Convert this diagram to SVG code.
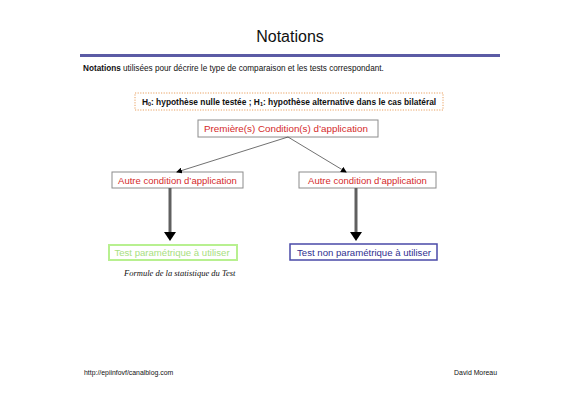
<svg xmlns="http://www.w3.org/2000/svg" width="580" height="410" viewBox="0 0 580 410">
<defs>
<style>
.t{font-family:"Liberation Sans",Arial,sans-serif;}
.box{fill:#fff;stroke:#8c8c8c;stroke-width:1;}
.red{fill:#d42a2a;font-size:9.5px;}
.thin{stroke:#333;stroke-width:0.7;fill:none;}
.thick{stroke:#606060;stroke-width:3;fill:none;}
</style>
<marker id="sa" markerWidth="6" markerHeight="6" refX="5" refY="3" orient="auto" markerUnits="userSpaceOnUse"><path d="M0,0 L6,3 L0,6 Z" fill="#000"/></marker>
</defs>
<rect width="580" height="410" fill="#fff"/>
<text class="t" x="290" y="42" font-size="16" text-anchor="middle" fill="#111">Notations</text>
<rect x="80" y="54" width="420" height="3" fill="#5b5ba5"/>
<text class="t" x="83" y="71" font-size="8.2" fill="#111"><tspan font-weight="bold">Notations</tspan> utilisées pour décrire le type de comparaison et les tests correspondant.</text>
<g id="notes">
<rect x="135" y="93" width="308" height="17" fill="#fff" stroke="#e8a060" stroke-width="1" stroke-dasharray="1.2,1.4"/>
<text class="t" x="289" y="104.8" font-size="8.4" font-weight="bold" text-anchor="middle" fill="#111">H<tspan font-size="5.5" dy="1.5">0</tspan><tspan dy="-1.5">: hypothèse nulle testée ; H</tspan><tspan font-size="5.5" dy="1.5">1</tspan><tspan dy="-1.5">: hypothèse alternative dans le cas bilatéral</tspan></text>
</g>
<g id="n1">
<rect class="box" x="198" y="120" width="180" height="17"/>
<text class="t red" x="286" y="132" font-size="9.8" text-anchor="middle" style="font-size:9.8px">Première(s) Condition(s) d’application</text>
</g>
<g id="n2">
<rect class="box" x="112" y="172" width="131" height="16"/>
<text class="t red" x="177.5" y="183.5" text-anchor="middle">Autre condition d’application</text>
</g>
<g id="n3">
<rect class="box" x="299" y="172" width="137" height="16"/>
<text class="t red" x="367.5" y="183.5" text-anchor="middle">Autre condition d’application</text>
</g>
<g id="n4">
<rect x="109" y="245" width="128" height="15" fill="#fff" stroke="#b8f090" stroke-width="2"/>
<text class="t" x="172" y="256" font-size="9.6" text-anchor="middle" fill="#a8e080">Test paramétrique à utiliser</text>
</g>
<g id="n5">
<rect x="290" y="244" width="147" height="16" fill="#fff" stroke="#4a4aa8" stroke-width="1.5"/>
<text class="t" x="364" y="255.5" font-size="9.6" text-anchor="middle" fill="#303090">Test non paramétrique à utiliser</text>
</g>
<g id="connectors">
<line class="thin" x1="288" y1="137" x2="177" y2="172" marker-end="url(#sa)"/>
<line class="thin" x1="288" y1="137" x2="346" y2="172" marker-end="url(#sa)"/>
<line class="thick" x1="170" y1="188" x2="170" y2="233"/>
<path d="M164,232 L176,232 L170,241 Z" fill="#000"/>
<line class="thick" x1="356" y1="188" x2="356" y2="233"/>
<path d="M350,232 L362,232 L356,241 Z" fill="#000"/>
</g>
<text x="124" y="276" font-family="Liberation Serif,serif" font-style="italic" font-size="8.5" fill="#111">Formule de la statistique du Test</text>
<text class="t" x="84" y="375" font-size="6.9" fill="#111">http://epiinfovf/canalblog.com</text>
<text class="t" x="497" y="375" font-size="6.9" text-anchor="end" fill="#111">David Moreau</text>
</svg>
